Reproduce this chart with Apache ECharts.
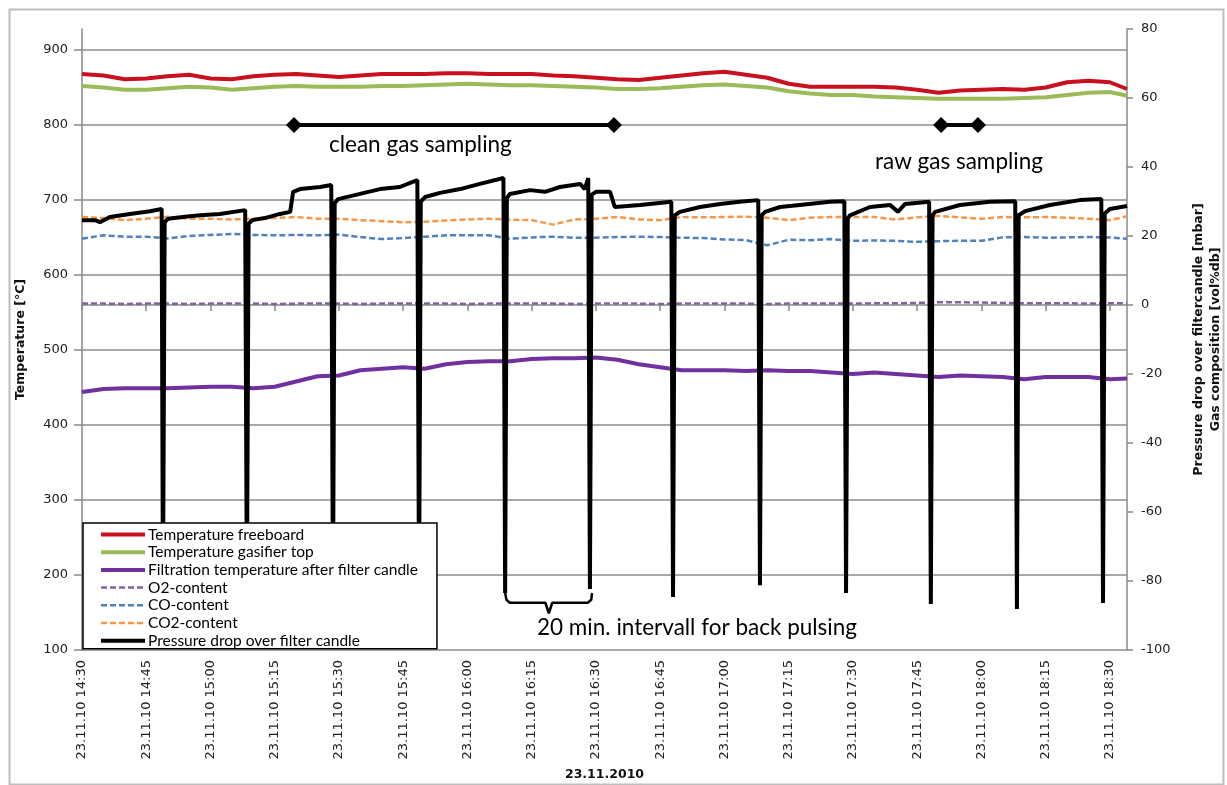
<!DOCTYPE html>
<html><head><meta charset="utf-8">
<script src="https://cdn.jsdelivr.net/npm/echarts@6/dist/echarts.min.js"></script>
<style>html,body{margin:0;padding:0;background:#fff}#c{width:1227px;height:785px}</style>
</head><body><div id="c"></div>
<script>
// time in minutes after 23.11.2010 14:30
const timeSlow = [0,5,10,15,20,25,30,35,40,45,50,55,60,65,70,75,80,85,90,95,100,105,110,115,120,125,130,135,140,145,150,155,160,165,170,175,180,185,190,195,200,205,210,215,220,225,230,235,240,244];
const tempFreeboard = [868,866,861,862,865,867,862,861,865,867, 868,866,864,866,868,868,868,869,869,868, 868,868,866,865,863,861,860,863,866,869, 871,867,863,855,851,851,851,851,850,847, 843,846,847,848,847,850,857,859,857,848];
const tempGasifierTop = [852,850,847,847,849,851,850,847,849,851, 852,851,851,851,852,852,853,854,855,854, 853,853,852,851,850,848,848,849,851,853, 854,852,850,845,842,840,840,838,837,836, 835,835,835,835,836,837,840,843,844,839];
const tempFiltration = [444,448,449,449,449,450,451,451,449,451, 458,465,466,473,475,477,475,481,484,485, 485,488,489,489,490,487,481,477,473,473, 473,472,473,472,472,470,468,470,468,466, 464,466,465,464,461,464,464,464,461,462];
const o2Content = [0.4,0.4,0.3,0.4,0.4,0.3,0.4,0.4,0.4,0.3, 0.4,0.4,0.4,0.3,0.4,0.4,0.4,0.4,0.3,0.4, 0.4,0.4,0.4,0.3,0.4,0.4,0.4,0.3,0.4,0.4, 0.4,0.4,0.3,0.4,0.4,0.4,0.4,0.5,0.5,0.6, 0.8,0.8,0.7,0.6,0.5,0.5,0.5,0.4,0.5,0.5];
const coContent = [19.2,20.2,19.8,19.8,19.3,20.0,20.3,20.6,20.3,20.2, 20.3,20.2,20.4,19.7,19.1,19.4,19.8,20.2,20.2,20.2, 19.2,19.6,19.8,19.5,19.5,19.7,19.8,19.7,19.5,19.4, 19.0,18.8,17.3,18.9,18.8,19.1,18.6,18.7,18.6,18.3, 18.5,18.6,18.6,19.6,19.7,19.5,19.6,19.7,19.6,19.2];
const co2Content = [25.5,25.2,24.6,25.0,25.6,25.0,25.0,24.8,25.0,25.2, 25.5,25.0,25.0,24.6,24.3,24.0,24.1,24.5,24.8,25.0, 24.7,24.6,23.3,24.8,25.0,25.5,24.8,24.6,25.5,25.4, 25.5,25.6,25.3,24.6,25.3,25.5,25.5,25.5,24.8,25.4, 25.8,25.4,25.0,25.5,25.4,25.5,25.3,25.0,24.6,25.7];
const pressureTime = [0,3.0,4.2,6.5,11.2,15.9,18.6, 18.9,19.3,20.1,24.0,27.6,32.2,38.1, 38.5,38.9,39.7,42.7,46.2,48.6,49.3,50.9,55.6,58.2, 58.6,59.0,59.8,64.9,69.6,74.2,78.3, 78.7,79.1,80.1,83.6,88.3,92.9,98.4, 98.8,99.2,99.9,104.6,108.1,111.6,116.3,117.4,118.2, 118.6,119.0,120.0,123.3,124.4,130.3,137.6, 138.0,138.4,139.6,144.3,149.0,153.6,157.9, 158.3,158.7,159.5,163.0,167.6,174.6,178.0, 178.4,178.8,179.3,184.0,188.7,190.5,192.2,197.8, 198.2,198.6,199.2,205.0,212.0,217.9, 218.3,218.7,220.2,226.0,233.0,238.0, 238.4,238.8,240.0,244.0];
const pressureDrop = [24.6,24.6,24.0,25.5,26.4,27.2,27.8, -85,24.0,25.0,25.6,26.0,26.4,27.5, -85,23.5,24.6,25.2,26.4,27.0,32.8,33.6,34.2,34.8, -86,29.5,30.7,32.2,33.6,34.2,36.2, -86,30.0,31.3,32.5,33.6,35.1,36.8, -83.5,31.0,32.2,33.3,32.8,34.2,35.1,33.6,36.8, -82.3,32.0,32.8,32.8,28.4,29.0,29.9, -84.6,26.0,27.0,28.4,29.3,29.9,30.4, -81.2,26.0,27.0,28.4,29.0,29.9,30.1, -83.5,25.0,26.0,28.4,29.0,27.0,29.3,29.9, -86.7,26.0,27.0,29.0,29.9,30.1, -88.1,26.0,27.2,29.0,30.4,30.7, -86.4,26.5,27.8,28.7];
const cleanSamplingTime = [49.5,124.2];
const rawSamplingTime = [200.6,209.2];
const samplingLevel = 800;
const braceTime = [98.8,99.1,99.9,108.2,109.0,109.8,118.1,118.9,119.1];
const braceLevel = [176,167,163,163,149,163,163,167,176];
const tempTicks = {min:100,max:928,interval:100};
const rightTicks = {min:-100,max:80,interval:20};

const zip = (xs, ys) => xs.map((x,i)=>[x, ys[i]]);
const LBL = 'DejaVu Sans';
const TXT = 'Lato';
const names = ['Temperature freeboard','Temperature gasifier top','Filtration temperature after filter candle','O2-content','CO-content','CO2-content','Pressure drop over filter candle'];
function fmtTime(v){const t=14*60+30+Math.round(v);const h=Math.floor(t/60),m=t%60;return '23.11.10 '+h+':'+(m<10?'0':'')+m;}
const solid=(name,data,color,w,axis)=>({name,type:'line',data,yAxisIndex:axis,symbol:'none',lineStyle:{color,width:w},itemStyle:{color},z:3});
const dashed=(name,data,color)=>({name,type:'line',data,yAxisIndex:1,symbol:'none',lineStyle:{color,width:2.5,type:[6,3]},itemStyle:{color},z:3});

const chart = echarts.init(document.getElementById('c'), null, {renderer:'canvas'});
chart.setOption({
  animation:false,
  backgroundColor:'#fff',
  grid:{left:82,right:100,top:29,bottom:135,containLabel:false,outerBoundsMode:'none'},
  xAxis:{type:'value',min:0,max:244,interval:15,
    name:'23.11.2010',nameLocation:'middle',nameGap:118,
    nameTextStyle:{fontFamily:LBL,fontWeight:'bold',fontSize:12.5,color:'#111'},
    axisLine:{lineStyle:{color:'#888',width:1.5}},
    axisTick:{length:6,lineStyle:{color:'#888',width:1.5}},
    splitLine:{show:false},
    axisLabel:{rotate:90,margin:10,fontFamily:LBL,fontSize:13,color:'#222',showMaxLabel:false,formatter:fmtTime}},
  yAxis:[
    {type:'value',min:tempTicks.min,max:tempTicks.max,interval:tempTicks.interval,position:'left',
     name:'Temperature [°C]',nameLocation:'middle',nameGap:55,nameRotate:90,
     nameTextStyle:{fontFamily:LBL,fontWeight:'bold',fontSize:12.5,color:'#111'},
     axisLine:{show:true,lineStyle:{color:'#888',width:1.5}},
     axisTick:{show:true,length:8,lineStyle:{color:'#888',width:1.5}},
     splitLine:{show:true,showMaxLine:false,lineStyle:{color:'#8c8c8c',width:1.5}},
     axisLabel:{margin:14,fontFamily:LBL,fontSize:13,color:'#222',showMaxLabel:false}},
    {type:'value',min:rightTicks.min,max:rightTicks.max,interval:rightTicks.interval,position:'right',
     name:'Pressure drop over filtercandle [mbar]\nGas composition [vol%db]',nameLocation:'middle',nameGap:63,nameRotate:90,
     nameTextStyle:{fontFamily:LBL,fontWeight:'bold',fontSize:12.5,color:'#111',lineHeight:17,align:'center'},
     axisLine:{show:true,lineStyle:{color:'#888',width:1.5}},
     axisTick:{show:true,length:6,lineStyle:{color:'#888',width:1.5}},
     splitLine:{show:false},
     axisLabel:{margin:14,fontFamily:LBL,fontSize:13,color:'#222'}}
  ],
  legend:{orient:'vertical',left:83,top:523,data:names,
    itemWidth:44,itemHeight:14,itemGap:1.7,padding:[3.5,19,0,16],
    backgroundColor:'#fff',borderColor:'#000',borderWidth:1.5,borderRadius:0,
    lineStyle:{width:'inherit'},
    itemStyle:{opacity:0},
    textStyle:{fontFamily:TXT,fontSize:15.5,lineHeight:16,color:'#000',padding:[0,0,0,-2]},
    selectedMode:false},
  series:[
    solid(names[0],zip(timeSlow,tempFreeboard),'#C8101E',4,0),
    solid(names[1],zip(timeSlow,tempGasifierTop),'#9BBB59',4,0),
    solid(names[2],zip(timeSlow,tempFiltration),'#7030A0',4,0),
    dashed(names[3],zip(timeSlow,o2Content),'#8064A2'),
    dashed(names[4],zip(timeSlow,coContent),'#4F81BD'),
    dashed(names[5],zip(timeSlow,co2Content),'#F79646'),
    solid(names[6],zip(pressureTime,pressureDrop),'#000',4,1),
    {name:'clean gas sampling',type:'line',yAxisIndex:0,data:cleanSamplingTime.map(t=>[t,samplingLevel]),symbol:'diamond',symbolSize:16,lineStyle:{color:'#000',width:4},itemStyle:{color:'#000'},z:5},
    {name:'raw gas sampling',type:'line',yAxisIndex:0,data:rawSamplingTime.map(t=>[t,samplingLevel]),symbol:'diamond',symbolSize:16,lineStyle:{color:'#000',width:4},itemStyle:{color:'#000'},z:5},
    {name:'back pulsing interval',type:'line',yAxisIndex:0,data:zip(braceTime,braceLevel),symbol:'none',lineStyle:{color:'#000',width:2.5},z:5}
  ],
  graphic:[
    {type:'rect',left:7,top:7,shape:{width:1214,height:775},style:{fill:'none',stroke:'#bdbdbd',lineWidth:2},silent:true,z:-1},
    {type:'text',left:329,top:133,style:{text:'clean gas sampling',font:'22.5px Lato',fill:'#000'}},
    {type:'text',left:875,top:150,style:{text:'raw gas sampling',font:'22.5px Lato',fill:'#000'}},
    {type:'text',left:537,top:616,style:{text:'20 min. intervall for back pulsing',font:'22.5px Lato',fill:'#000'}}
  ]
});
</script></body></html>
